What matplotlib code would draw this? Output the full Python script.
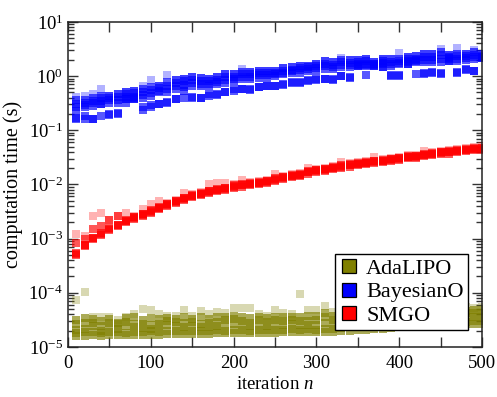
import numpy as np
import matplotlib
matplotlib.use("Agg")
import matplotlib.pyplot as plt
from matplotlib.lines import Line2D
from matplotlib.ticker import FixedLocator, FuncFormatter, LogLocator, NullFormatter

plt.rcParams['font.family'] = ['Liberation Serif', 'DejaVu Serif']
plt.rcParams['mathtext.fontset'] = 'custom'
plt.rcParams['mathtext.rm'] = 'Liberation Serif'
plt.rcParams['mathtext.it'] = 'Liberation Serif:italic'

# iterations
n_iter = np.arange(10, 501, 10)

# log10 of computation time (s), one list per run
bayes_runs = [
    [-0.39, -0.36, -0.33, -0.24, -0.36, -0.33, -0.29, -0.27, -0.18, -0.08,
     -0.18, 0.01, -0.08, -0.05, -0.02, -0.04, -0.05, -0.02, 0.04, 0.04,
     0.13, 0.07, 0.10, 0.10, 0.10, 0.15, 0.16, 0.19, 0.19, 0.23,
     0.27, 0.26, 0.33, 0.29, 0.29, 0.32, 0.26, 0.32, 0.31, 0.43,
     0.35, 0.37, 0.41, 0.41, 0.50, 0.39, 0.51, 0.41, 0.48, 0.41],
    [-0.45, -0.45, -0.41, -0.36, -0.36, -0.33, -0.29, -0.27, -0.24, -0.21,
     -0.18, -0.11, -0.08, -0.05, -0.02, -0.04, -0.05, -0.02, 0.04, 0.04,
     0.08, 0.07, 0.10, 0.10, 0.10, 0.15, 0.16, 0.19, 0.19, 0.23,
     0.27, 0.26, 0.30, 0.29, 0.29, 0.32, 0.26, 0.32, 0.31, 0.32,
     0.35, 0.37, 0.41, 0.41, 0.45, 0.39, 0.41, 0.41, 0.44, 0.41],
    [-0.51, -0.50, -0.46, -0.41, -0.41, -0.38, -0.34, -0.32, -0.29, -0.26,
     -0.22, -0.18, -0.13, -0.10, -0.07, -0.09, -0.10, -0.07, -0.01, -0.01,
     0.03, 0.03, 0.06, 0.06, 0.06, 0.10, 0.12, 0.15, 0.16, 0.18,
     0.22, 0.21, 0.26, 0.24, 0.25, 0.27, 0.23, 0.27, 0.26, 0.28,
     0.31, 0.32, 0.36, 0.36, 0.39, 0.35, 0.37, 0.37, 0.39, 0.37],
    [-0.58, -0.54, -0.50, -0.47, -0.45, -0.44, -0.38, -0.38, -0.35, -0.32,
     -0.27, -0.24, -0.19, -0.16, -0.13, -0.14, -0.14, -0.11, -0.07, -0.05,
     -0.02, -0.02, 0.02, 0.02, 0.03, 0.06, 0.10, 0.11, 0.13, 0.14,
     0.18, 0.17, 0.21, 0.20, 0.22, 0.23, 0.21, 0.22, 0.22, 0.24,
     0.26, 0.29, 0.30, 0.30, 0.32, 0.31, 0.32, 0.33, 0.35, 0.35],
    [-0.64, -0.58, -0.55, -0.52, -0.49, -0.49, -0.43, -0.43, -0.40, -0.37,
     -0.30, -0.30, -0.24, -0.21, -0.18, -0.18, -0.18, -0.15, -0.12, -0.09,
     -0.06, -0.06, -0.03, -0.03, 0.00, 0.03, 0.06, 0.06, 0.10, 0.10,
     0.13, 0.13, 0.16, 0.16, 0.19, 0.19, 0.19, 0.17, 0.19, 0.22,
     0.22, 0.25, 0.25, 0.25, 0.25, 0.28, 0.28, 0.29, 0.31, 0.33],
    [-0.78, -0.73, -0.79, -0.74, -0.70, -0.70, -0.50, -0.43, -0.58, -0.54,
     -0.51, -0.48, -0.42, -0.40, -0.39, -0.40, -0.33, -0.34, -0.30, -0.24,
     -0.24, -0.24, -0.21, -0.18, -0.18, -0.15, -0.11, -0.11, -0.08, -0.08,
     -0.05, -0.08, 0.00, -0.02, 0.19, 0.01, 0.19, 0.17, 0.01, 0.01,
     0.22, 0.03, 0.04, 0.07, 0.04, 0.28, 0.07, 0.11, 0.10, 0.33],
    [-0.80, -0.80, -0.80, -0.52, -0.72, -0.69, -0.43, -0.41, -0.63, -0.58,
     -0.52, -0.49, -0.43, -0.27, -0.40, -0.41, -0.37, -0.35, -0.30, -0.27,
     -0.24, -0.26, -0.21, -0.18, -0.18, -0.16, -0.12, -0.12, -0.09, -0.06,
     -0.06, -0.06, 0.00, -0.03, 0.21, 0.21, 0.22, 0.24, 0.00, 0.00,
     0.28, 0.27, 0.05, 0.06, 0.05, 0.33, 0.06, 0.13, 0.10, 0.36],
]

smgo_runs = [
    [-2.91, -2.95, -2.58, -2.53, -2.66, -2.59, -2.52, -2.58, -2.46, -2.36,
     -2.30, -2.34, -2.28, -2.15, -2.18, -2.14, -2.00, -1.98, -1.97, -2.00,
     -1.92, -1.96, -1.94, -1.91, -1.80, -1.84, -1.81, -1.79, -1.70, -1.71,
     -1.69, -1.66, -1.58, -1.61, -1.59, -1.57, -1.50, -1.53, -1.51, -1.49,
     -1.46, -1.45, -1.38, -1.40, -1.38, -1.37, -1.35, -1.33, -1.31, -1.30],
    [-3.27, -3.11, -2.98, -2.90, -2.81, -2.74, -2.67, -2.61, -2.55, -2.49,
     -2.43, -2.37, -2.31, -2.26, -2.21, -2.17, -2.13, -2.10, -2.07, -2.03,
     -2.01, -1.99, -1.97, -1.94, -1.90, -1.87, -1.84, -1.82, -1.77, -1.74,
     -1.72, -1.69, -1.66, -1.64, -1.62, -1.60, -1.57, -1.56, -1.54, -1.52,
     -1.49, -1.48, -1.45, -1.43, -1.41, -1.40, -1.38, -1.36, -1.34, -1.33],
    [-3.28, -3.12, -2.99, -2.91, -2.82, -2.75, -2.68, -2.62, -2.56, -2.50,
     -2.44, -2.38, -2.32, -2.27, -2.22, -2.18, -2.14, -2.11, -2.08, -2.04,
     -2.02, -2.00, -1.98, -1.95, -1.91, -1.88, -1.85, -1.83, -1.78, -1.75,
     -1.73, -1.70, -1.67, -1.65, -1.63, -1.61, -1.58, -1.57, -1.55, -1.53,
     -1.50, -1.49, -1.46, -1.44, -1.42, -1.41, -1.39, -1.37, -1.35, -1.34],
    [-3.30, -3.14, -3.01, -2.93, -2.84, -2.77, -2.70, -2.64, -2.58, -2.52,
     -2.46, -2.40, -2.34, -2.29, -2.24, -2.20, -2.16, -2.13, -2.10, -2.06,
     -2.04, -2.02, -2.00, -1.97, -1.93, -1.90, -1.87, -1.85, -1.80, -1.77,
     -1.75, -1.72, -1.69, -1.67, -1.65, -1.63, -1.60, -1.59, -1.57, -1.55,
     -1.52, -1.51, -1.48, -1.46, -1.44, -1.43, -1.41, -1.39, -1.37, -1.36],
    [-3.08, -3.00, -2.82, -2.76, -2.66, -2.59, -2.66, -2.60, -2.54, -2.48,
     -2.42, -2.36, -2.30, -2.25, -2.20, -2.16, -2.12, -2.09, -2.06, -2.02,
     -2.00, -1.98, -1.96, -1.93, -1.89, -1.86, -1.83, -1.81, -1.76, -1.73,
     -1.71, -1.68, -1.65, -1.63, -1.61, -1.59, -1.56, -1.55, -1.53, -1.51,
     -1.48, -1.47, -1.44, -1.42, -1.40, -1.39, -1.37, -1.35, -1.33, -1.32],
]

adalipo_runs = [
    [-4.14, -3.98, -4.45, -4.44, -4.45, -4.50, -4.44, -4.40, -4.30, -4.31,
     -4.40, -4.42, -4.43, -4.31, -4.42, -4.34, -4.40, -4.35, -4.38, -4.28,
     -4.28, -4.28, -4.40, -4.42, -4.32, -4.38, -4.40, -4.02, -4.31, -4.31,
     -4.24, -4.35, -4.33, -4.32, -4.34, -4.31, -4.30, -4.33, -4.30, -4.29,
     -4.31, -4.28, -4.30, -4.27, -4.29, -4.28, -4.29, -4.27, -4.28, -4.27],
    [-4.50, -4.46, -4.48, -4.52, -4.49, -4.55, -4.47, -4.45, -4.50, -4.47,
     -4.48, -4.46, -4.48, -4.44, -4.48, -4.45, -4.49, -4.44, -4.45, -4.42,
     -4.44, -4.46, -4.45, -4.47, -4.44, -4.45, -4.44, -4.44, -4.43, -4.43,
     -4.38, -4.42, -4.40, -4.40, -4.40, -4.39, -4.38, -4.38, -4.37, -4.36,
     -4.36, -4.35, -4.35, -4.34, -4.34, -4.33, -4.33, -4.33, -4.32, -4.32],
    [-4.58, -4.56, -4.55, -4.62, -4.55, -4.58, -4.54, -4.57, -4.58, -4.60,
     -4.57, -4.52, -4.54, -4.56, -4.54, -4.57, -4.56, -4.53, -4.50, -4.48,
     -4.52, -4.55, -4.51, -4.54, -4.51, -4.52, -4.50, -4.52, -4.52, -4.50,
     -4.45, -4.50, -4.48, -4.47, -4.46, -4.46, -4.45, -4.44, -4.43, -4.42,
     -4.42, -4.41, -4.40, -4.40, -4.39, -4.39, -4.38, -4.38, -4.37, -4.37],
    [-4.68, -4.66, -4.62, -4.70, -4.64, -4.66, -4.62, -4.64, -4.65, -4.66,
     -4.64, -4.60, -4.61, -4.63, -4.62, -4.64, -4.63, -4.62, -4.60, -4.58,
     -4.60, -4.62, -4.60, -4.62, -4.59, -4.60, -4.58, -4.60, -4.59, -4.60,
     -4.55, -4.58, -4.56, -4.55, -4.54, -4.54, -4.53, -4.52, -4.51, -4.50,
     -4.50, -4.49, -4.48, -4.47, -4.47, -4.46, -4.46, -4.45, -4.45, -4.44],
    [-4.74, -4.73, -4.72, -4.75, -4.73, -4.72, -4.74, -4.73, -4.72, -4.71,
     -4.72, -4.71, -4.70, -4.71, -4.70, -4.71, -4.70, -4.69, -4.70, -4.69,
     -4.69, -4.70, -4.68, -4.69, -4.69, -4.68, -4.67, -4.68, -4.67, -4.68,
     -4.66, -4.67, -4.65, -4.64, -4.64, -4.63, -4.62, -4.61, -4.60, -4.59,
     -4.58, -4.57, -4.56, -4.56, -4.55, -4.54, -4.53, -4.53, -4.52, -4.52],
    [-4.79, -4.79, -4.78, -4.79, -4.78, -4.78, -4.78, -4.78, -4.77, -4.77,
     -4.77, -4.76, -4.76, -4.76, -4.76, -4.76, -4.76, -4.75, -4.75, -4.75,
     -4.74, -4.74, -4.74, -4.74, -4.74, -4.73, -4.73, -4.72, -4.73, -4.73,
     -4.72, -4.72, -4.70, -4.70, -4.69, -4.68, -4.67, -4.66, -4.65, -4.64,
     -4.63, -4.62, -4.61, -4.60, -4.60, -4.59, -4.58, -4.58, -4.57, -4.57],
]

names = ['AdaLIPO', 'BayesianO', 'SMGO']
colors = ['#808000', '#0000ff', '#ff0000']

fig = plt.figure(figsize=(4.97, 3.97), dpi=100)
ax = fig.add_axes([0.137, 0.126, 0.833, 0.819])

for runs, c in zip([adalipo_runs, bayes_runs, smgo_runs], colors):
    for k, r in enumerate(runs):
        # first run of each list holds the stray, lighter points
        a = 0.3 if k == 0 else 0.66
        ax.plot(n_iter, 10 ** np.array(r), ls='none', marker='s', ms=6.0,
                mew=0, color=c, alpha=a, antialiased=False)

ax.set_yscale('log')
ax.set_xlim(0, 500)
ax.set_ylim(1e-5, 1e1)

ax.xaxis.set_major_locator(FixedLocator([0, 100, 200, 300, 400, 500]))
ax.xaxis.set_minor_locator(FixedLocator([50, 150, 250, 350, 450]))
ax.yaxis.set_major_locator(LogLocator(base=10, numticks=20))
ax.yaxis.set_minor_locator(LogLocator(base=10, subs=np.arange(2, 10), numticks=20))
ax.yaxis.set_minor_formatter(NullFormatter())
ax.yaxis.set_major_formatter(FuncFormatter(
    lambda v, p: r'$\mathregular{10^{%d}}$' % int(round(np.log10(v)))))

ax.tick_params(which='both', direction='in', top=True, right=True,
               labelsize=13.5, width=1.0, color='#333333')
ax.tick_params(which='major', length=7)
ax.tick_params(which='minor', length=4)
ax.tick_params(axis='x', which='minor', length=7)
ax.tick_params(axis='x', pad=6)
for s in ax.spines.values():
    s.set_linewidth(1.1)
    s.set_color('#222222')

ax.set_xlabel('iteration $n$', fontsize=13.5, labelpad=3)
ax.set_ylabel('computation time (s)', fontsize=14.5, labelpad=4)

handles = [Line2D([], [], ls='none', marker='s', ms=10, mfc=c, mec='black',
                  mew=0.9) for c in colors]
leg = ax.legend(handles, names, loc='lower right', bbox_to_anchor=(0.966, 0.052),
                borderaxespad=0, fontsize=16, frameon=True, fancybox=False,
                handlelength=0.9, handletextpad=0.3, labelspacing=0.12,
                borderpad=0.2, framealpha=1)
leg.get_frame().set_edgecolor('black')
leg.get_frame().set_linewidth(1.0)

fig.savefig('out.png', dpi=100)
